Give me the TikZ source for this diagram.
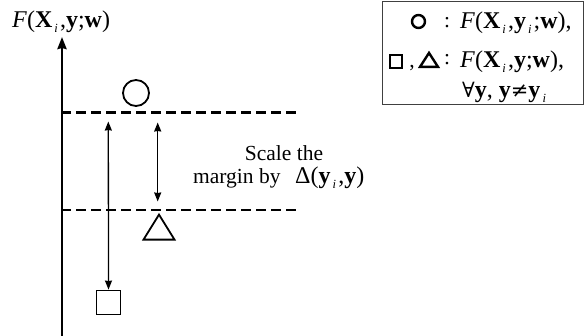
\documentclass[tikz,border=0pt]{standalone}
\usepackage{fontspec}
\setmainfont{Liberation Serif}
\newfontfamily\symfont{DejaVu Serif}
\usetikzlibrary{arrows.meta,shapes.geometric}
\newcommand\mysub[1]{\raisebox{-0.4ex}{\fontsize{12.5}{12.5}\selectfont\itshape\,#1\,}}
\newcommand\bfv[1]{\textbf{#1}}
\tikzset{
  axisline/.style={line width=2.8pt,-{Stealth[length=12pt,width=9pt,inset=1pt]}},
  dashline/.style={line width=2.4pt,dash pattern=on 9.5pt off 5.5pt},
  marg/.style={line width=1.3pt,{Stealth[length=9pt,width=7pt,inset=0.5pt]}-{Stealth[length=9pt,width=7pt,inset=0.5pt]}},
  shp/.style={draw,line width=1.8pt,inner sep=0pt},
  lshp/.style={draw,line width=2.4pt,inner sep=0pt},
  txt/.style={font=\fontsize{21.5}{24}\selectfont,inner sep=0pt},
  ftxt/.style={font=\fontsize{24}{27}\selectfont,inner sep=0pt},
}
\begin{document}
\begin{tikzpicture}[x=1pt,y=-1pt]
\useasboundingbox (0,0) rectangle (586,336);
% axis
\coordinate (ab) at (62,337);
\coordinate (at) at (62,37);
\draw[axisline] (ab) -- (at);
\node[ftxt,anchor=base west] (flab) at (12,28) {\textit{F}(\bfv{X}\mysub{i},\bfv{y};\bfv{w})};
% dashed lines
\coordinate (d1a) at (61,112.5);
\coordinate (d1b) at (297,112.5);
\coordinate (d2a) at (61,210);
\coordinate (d2b) at (297,210);
\draw[dashline] (d1a) -- (d1b);
\draw[dashline] (d2a) -- (d2b);
% shapes
\node[shp,circle,minimum size=26pt] (circ) at (136,93) {};
\node[shp,isosceles triangle,isosceles triangle apex angle=62,shape border rotate=90,minimum height=25pt,minimum width=31pt,isosceles triangle stretches] (tri) at (159,231) {};
\node[shp,rectangle,minimum size=24pt] (sq) at (108.5,302.5) {};
% margin arrows
\coordinate (a1t) at (108.3,121.5);
\coordinate (a2t) at (157.7,122.5);
\coordinate (a2b) at (157.7,201.5);
\draw[marg] (a1t) -- (sq.north);
\draw[marg] (a2t) -- (a2b);
% text
\node[txt,anchor=base] (t1) at (284,161) {Scale the};
\node[txt,anchor=base west] (t2) at (193,184) {margin by};
\node[ftxt,anchor=base west] (t3) at (295,184) {Δ(\bfv{y}\mysub{i},\bfv{y})};
% legend box
\node[draw=black!75,line width=1pt,minimum width=201pt,minimum height=103pt,anchor=north west,inner sep=0pt] (box) at (382,1.5) {};
\node[lshp,circle,minimum size=13pt] (lc) at (418.5,21.5) {};
\node[txt,anchor=base] (c1) at (447,28) {:};
\node[ftxt,anchor=base west] (r1) at (460,29) {\textit{F}(\bfv{X}\mysub{i},\bfv{y}\mysub{i};\bfv{w}),};
\node[lshp,rectangle,minimum size=12.5pt] (ls) at (396,61.5) {};
\node[txt,anchor=base] (cm) at (412,68) {,};
\node[lshp,isosceles triangle,isosceles triangle apex angle=66,shape border rotate=90,minimum height=14pt,minimum width=18pt,isosceles triangle stretches] (lt) at (429,62) {};
\node[txt,anchor=base] (c2) at (447,65) {:};
\node[ftxt,anchor=base west] (r2) at (460,68) {\textit{F}(\bfv{X}\mysub{i},\bfv{y};\bfv{w}),};
\node[ftxt,anchor=base west] (r3) at (462,98) {{\symfont\fontsize{21}{24}\selectfont ∀}\bfv{y}, \bfv{y}{\symfont\fontsize{21}{24}\selectfont ≠}\bfv{y}\mysub{i}};
\end{tikzpicture}
\end{document}
